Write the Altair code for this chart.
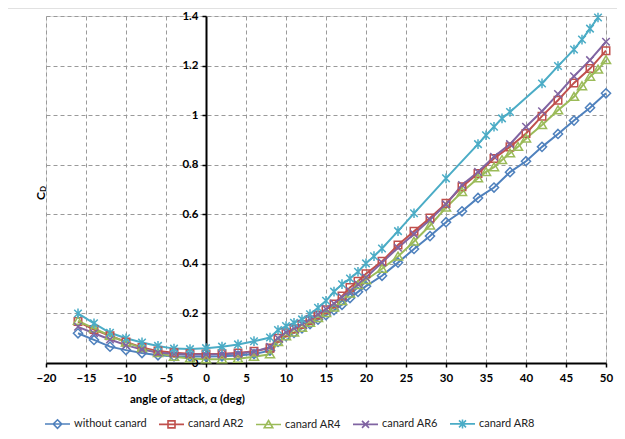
import altair as alt
import pandas as pd

series = ["without canard", "canard AR2", "canard AR4", "canard AR6", "canard AR8"]
colors = ["#4F81BD", "#C0504D", "#9BBB59", "#8064A2", "#4BACC6"]
marker_paths = [
    "M0,-0.34L0.34,0L0,0.34L-0.34,0Z",
    "M-0.28,-0.28H0.28V0.28H-0.28Z",
    "M0,-0.32L0.34,0.26H-0.34Z",
    "M-0.28,-0.28L0.28,0.28M-0.28,0.28L0.28,-0.28",
    "M-0.28,-0.28L0.28,0.28M-0.28,0.28L0.28,-0.28M0,-0.36V0.36",
]
legend_paths = [p + " M-1,0H1" for p in marker_paths]

x_base = [-16, -14, -12, -10, -8, -6, -4, -2, 0, 2, 4, 6, 8,
          9, 10, 11, 12, 13, 14, 15, 16, 17, 18, 19, 20,
          22, 24, 26, 28, 30, 32, 34, 36, 38, 40, 42, 44, 46, 48, 50]
cd_without = [0.12, 0.093, 0.066, 0.052, 0.04, 0.031, 0.027, 0.026, 0.026, 0.027, 0.03, 0.036, 0.05,
              0.085, 0.108, 0.122, 0.14, 0.157, 0.175, 0.193, 0.213, 0.235, 0.262, 0.287, 0.31,
              0.352, 0.405, 0.46, 0.512, 0.568, 0.612, 0.666, 0.708, 0.77, 0.814, 0.872, 0.924, 0.978, 1.03, 1.088]
cd_ar2 = [0.167, 0.135, 0.11, 0.085, 0.063, 0.048, 0.041, 0.037, 0.036, 0.037, 0.04, 0.047, 0.06,
          0.1, 0.122, 0.137, 0.155, 0.172, 0.194, 0.215, 0.238, 0.27, 0.305, 0.33, 0.36,
          0.41, 0.476, 0.532, 0.585, 0.644, 0.711, 0.765, 0.825, 0.872, 0.926, 0.996, 1.06, 1.13, 1.188, 1.26]
cd_ar6 = [0.146, 0.12, 0.095, 0.072, 0.054, 0.042, 0.036, 0.034, 0.034, 0.035, 0.038, 0.045, 0.065,
          0.1, 0.124, 0.14, 0.158, 0.177, 0.197, 0.218, 0.24, 0.265, 0.29, 0.318, 0.345,
          0.405, 0.465, 0.52, 0.578, 0.64, 0.718, 0.771, 0.832, 0.883, 0.953, 1.016, 1.085, 1.157, 1.222, 1.296]

x_ar4 = [-16, -14, -12, -10, -8, -6, -4, -2, 0, 2, 4, 6, 8,
         9, 10, 11, 12, 13, 14, 15, 16, 17, 18, 19, 20,
         22, 24, 26, 28, 30, 32, 34, 35, 36, 37, 38, 39, 40, 42, 44, 46, 47, 48, 49, 50]
cd_ar4 = [0.17, 0.14, 0.11, 0.083, 0.06, 0.04, 0.025, 0.018, 0.015, 0.015, 0.017, 0.025, 0.035,
          0.085, 0.108, 0.123, 0.142, 0.162, 0.182, 0.202, 0.224, 0.25, 0.28, 0.315, 0.335,
          0.38, 0.43, 0.49, 0.555, 0.627, 0.69, 0.745, 0.771, 0.79, 0.819, 0.846, 0.872, 0.906,
          0.96, 1.02, 1.074, 1.117, 1.155, 1.184, 1.222]

x_ar8 = [-16, -14, -12, -10, -8, -6, -4, -2, 0, 2, 4, 6, 8,
         9, 10, 11, 12, 13, 14, 15, 16, 17, 18, 19, 20, 21,
         22, 24, 26, 30, 34, 35, 36, 37, 38, 42, 44, 46, 47, 48, 49]
cd_ar8 = [0.20, 0.16, 0.122, 0.10, 0.083, 0.069, 0.058, 0.056, 0.06, 0.066, 0.075, 0.088, 0.103,
          0.133, 0.149, 0.162, 0.176, 0.197, 0.223, 0.251, 0.288, 0.318, 0.341, 0.368, 0.402, 0.431,
          0.462, 0.532, 0.604, 0.745, 0.883, 0.919, 0.953, 0.987, 1.013, 1.128, 1.198, 1.265, 1.305, 1.349, 1.394]

x_ticks = list(range(-20, 55, 5))
y_ticks = [0, 0.2, 0.4, 0.6, 0.8, 1.0, 1.2, 1.4]

all_x = [x_base, x_base, x_ar4, x_base, x_ar8]
all_y = [cd_without, cd_ar2, cd_ar4, cd_ar6, cd_ar8]
rows = []
for name, xs, ys in zip(series, all_x, all_y):
    for xv, yv in zip(xs, ys):
        rows.append({"x": xv, "y": yv, "series": name})
df = pd.DataFrame(rows)

FONT = "Lato"
grid_kw = dict(gridColor="#9a9a9a", gridDash=[4, 3], gridWidth=1)

x_enc = alt.X("x:Q", scale=alt.Scale(domain=[-20, 50], nice=False, zero=False),
              axis=alt.Axis(values=x_ticks, domainColor="black", domainWidth=2,
                            tickColor="black", tickSize=4, tickWidth=1.5,
                            labelFont=FONT, labelFontWeight="bold", labelFontSize=11.5,
                            labelColor="black", labelPadding=5, labelFlush=False,
                            labelOverlap=False,
                            title="angle of attack, α (deg)", titleFont=FONT,
                            titleFontWeight="bold", titleFontSize=11.5, titleColor="black",
                            titleX=141, titleY=36, titleBaseline="middle", titleAlign="center",
                            **grid_kw))
y_enc = alt.Y("y:Q", scale=alt.Scale(domain=[0, 1.4], nice=False),
              axis=alt.Axis(values=y_ticks, format="~g", offset=-160,
                            domainColor="black", domainWidth=2,
                            tickColor="black", tickSize=4, tickWidth=1.5,
                            labelFont=FONT, labelFontWeight="bold", labelFontSize=11.5,
                            labelColor="black", labelPadding=4, labelOverlap=False,
                            title=None, **grid_kw))

lines = alt.Chart(df).mark_line(strokeWidth=2).encode(
    x=x_enc, y=y_enc,
    stroke=alt.Stroke("series:N", sort=series, scale=alt.Scale(range=colors), legend=None),
    order="x:Q",
)

marker_layers = [
    alt.Chart(df).transform_filter(alt.datum.series == name).mark_point(
        shape=path, color=col, stroke=col, filled=False, size=720, strokeWidth=1.5, opacity=1
    ).encode(x=x_enc, y=y_enc)
    for name, path, col in zip(series, marker_paths, colors)
]

legend = alt.Legend(
    orient="none", legendX=-2, legendY=394, direction="horizontal",
    columns=5, columnPadding=8, symbolSize=625, symbolStrokeWidth=1.6,
    symbolFillColor="transparent", symbolOpacity=1,
    labelFont=FONT, labelFontSize=11, labelColor="#222",
    labelOffset=3, padding=0, title=None,
)
legend_layer = alt.Chart(df).transform_filter("false").mark_point(
    filled=False, opacity=1, size=625).encode(
    x=x_enc, y=y_enc,
    color=alt.Color("series:N", scale=alt.Scale(domain=series, range=colors), legend=legend),
    shape=alt.Shape("series:N", scale=alt.Scale(domain=series, range=legend_paths), legend=legend),
)

one = pd.DataFrame({"c": ["C"], "d": ["D"]})
frame = alt.Chart(one).mark_rect(fillOpacity=0, stroke="#c4c4c4", strokeWidth=1).encode(
    x=alt.value(-41), x2=alt.value(620), y=alt.value(-8), y2=alt.value(440))
ytitle_c = alt.Chart(one).mark_text(font=FONT, fontWeight="bold", fontSize=12, angle=270,
                                    color="black").encode(
    x=alt.value(-5), y=alt.value(180), text="c:N")
ytitle_d = alt.Chart(one).mark_text(font=FONT, fontWeight="bold", fontSize=8, angle=270,
                                    color="black").encode(
    x=alt.value(-2), y=alt.value(173), text="d:N")

chart = alt.layer(frame, lines, *marker_layers, legend_layer, ytitle_c, ytitle_d).properties(
    width=560, height=347,
    padding={"left": 38, "top": 8, "right": 11, "bottom": 68},
    autosize=alt.AutoSizeParams(type="none"),
).configure_view(stroke="transparent").configure(background="white")

chart.save("out.html", embed_options={"renderer": "svg", "actions": False})
